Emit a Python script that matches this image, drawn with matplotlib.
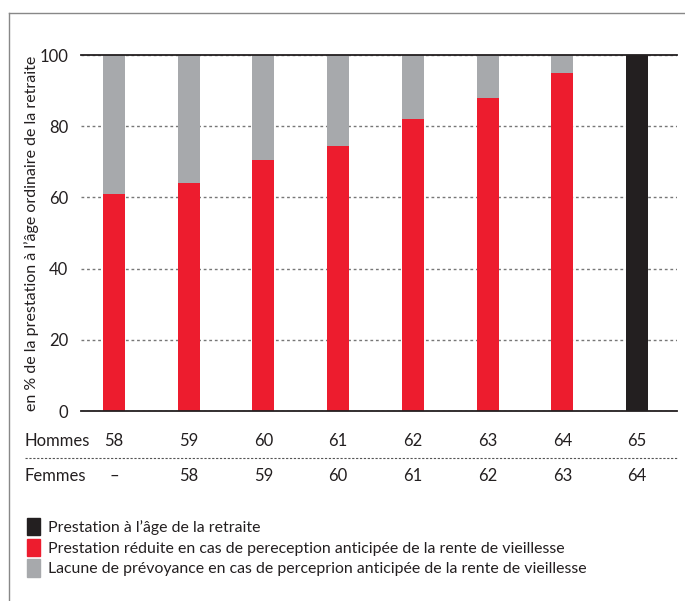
import matplotlib.pyplot as plt
from matplotlib.lines import Line2D
from matplotlib.patches import Patch
import numpy as np

plt.rcParams['font.family'] = ['Lato', 'DejaVu Sans']

hommes = ['58', '59', '60', '61', '62', '63', '64', '65']
femmes = ['–', '58', '59', '60', '61', '62', '63', '64']
reduite = [61, 64, 70.5, 74.5, 82, 88, 95, 0]
lacune = [39, 36, 29.5, 25.5, 18, 12, 5, 0]
pleine = [0, 0, 0, 0, 0, 0, 0, 100]

legend_labels = [
    "Prestation à l’âge de la retraite",
    "Prestation réduite en cas de pereception anticipée de la rente de vieillesse",
    "Lacune de prévoyance en cas de perceprion anticipée de la rente de vieillesse",
]

c_red = '#ED1C2E'
c_gray = '#A7A9AC'
c_black = '#231F20'
c_text = '#231F20'

W, H = 685, 601
fig = plt.figure(figsize=(W / 100, H / 100), dpi=100)
ax = fig.add_axes([81 / W, 1 - 411 / H, (677 - 81) / W, (411 - 55) / H])

x = np.arange(len(hommes))
bw = 0.294
ax.bar(x, reduite, bw, color=c_red, zorder=2)
ax.bar(x, lacune, bw, bottom=reduite, color=c_gray, zorder=2)
ax.bar(x, pleine, bw, color=c_black, zorder=2)

ax.set_xlim(-0.442, 7.536)
ax.set_ylim(0, 100)
ax.set_yticks([0, 20, 40, 60, 80, 100])
ax.set_xticks([])
ax.tick_params(axis='y', length=0, pad=9, labelsize=12, labelcolor=c_text)
for s in ax.spines.values():
    s.set_visible(False)
ax.grid(axis='y', ls=(0, (2, 2)), color='#777777', lw=1, zorder=0)
ax.axhline(0, color=c_black, lw=1.3, zorder=3, clip_on=False)
ax.axhline(100, color=c_black, lw=1.3, zorder=3, clip_on=False)

ax.set_ylabel("en % de la prestation à l’âge ordinaire de la retraite",
              fontsize=11.5, color=c_text)
ax.yaxis.set_label_coords(-0.07, 0.5)

# age rows under the bars
tr = ax.get_xaxis_transform()
y_h = (411 - 441) / 356
y_f = (411 - 476) / 356
for xi, h, f in zip(x, hommes, femmes):
    ax.text(xi, y_h, h, transform=tr, ha='center', va='center', fontsize=12, color=c_text)
    ax.text(xi, y_f, f, transform=tr, ha='center', va='center', fontsize=12, color=c_text)
fig.text(25 / W, 1 - 441 / H, 'Hommes', ha='left', va='center', fontsize=12, color=c_text)
fig.text(25 / W, 1 - 476 / H, 'Femmes', ha='left', va='center', fontsize=12, color=c_text)
fig.add_artist(Line2D([25 / W, 677 / W], [1 - 458 / H] * 2, ls=(0, (2, 1.5)),
                      color='#555555', lw=0.8))

# frame
fig.add_artist(Line2D([9 / W, 9 / W], [0, 1 - 13 / H], color='#888888', lw=1))
fig.add_artist(Line2D([9 / W, 1], [1 - 13 / H] * 2, color='#888888', lw=1))

handles = [Patch(color=c_black), Patch(color=c_red), Patch(color=c_gray)]
fig.legend(handles, legend_labels, loc='upper left', bbox_to_anchor=(19 / W, 1 - 510 / H),
           frameon=False, fontsize=11.4, handlelength=0.85, handleheight=1.3,
           handletextpad=0.5, labelspacing=0.22, borderpad=0, labelcolor=c_text)

fig.savefig('out.png', dpi=100)
